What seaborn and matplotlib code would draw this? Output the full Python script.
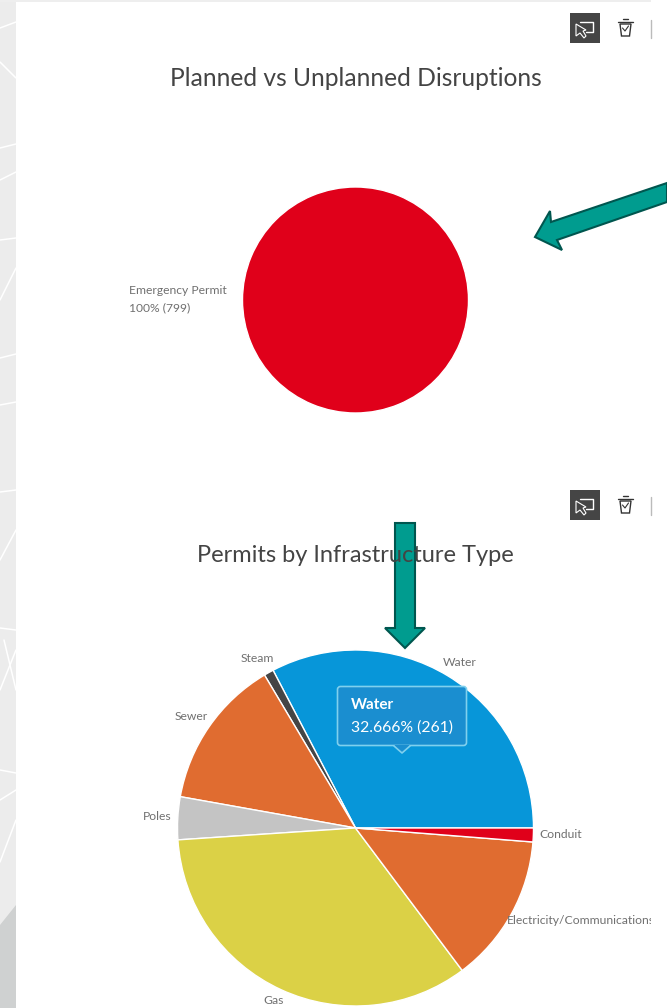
import matplotlib.pyplot as plt
import seaborn as sns
from matplotlib.patches import FancyBboxPatch, Polygon, Rectangle

sns.set_theme(style='white')
plt.rcParams['font.family'] = ['Lato', 'DejaVu Sans']

W, H = 667, 1008

# top chart
plan_labels = ['Emergency Permit']
plan_values = [799]
plan_colors = ['#e0001a']

# bottom chart, counter-clockwise from east
infra_labels = ['Water', 'Steam', 'Sewer', 'Poles', 'Gas', 'Electricity/Communications', 'Conduit']
infra_values = [261, 7, 109, 31, 273, 108, 10]
infra_colors = ['#0796d9', '#454545', '#e06c30', '#c4c4c4', '#dbd146', '#e06c30', '#e0001a']

titles = ['Planned vs Unplanned Disruptions', 'Permits by Infrastructure Type']
tooltip_head = 'Water'
tooltip_body = '32.666% (261)'


def pie_axes(cx, cy, r):
    ax = fig.add_axes([(cx - r) / W, 1 - (cy + r) / H, 2 * r / W, 2 * r / H])
    return ax


fig = plt.figure(figsize=(W / 100, H / 100), dpi=100, facecolor='white')

ax1 = pie_axes(355.5, 300, 113)
ax1.pie(plan_values, colors=plan_colors, startangle=90)
ax1.set_xlim(-1, 1)
ax1.set_ylim(-1, 1)

ax2 = pie_axes(355.5, 828, 178)
ax2.pie(infra_values, colors=infra_colors, startangle=0, counterclock=True,
        wedgeprops={'edgecolor': 'white', 'linewidth': 1})
ax2.set_xlim(-1, 1)
ax2.set_ylim(-1, 1)

# overlay in pixel coordinates for the page furniture
ov = fig.add_axes([0, 0, 1, 1], zorder=5)
ov.set_xlim(0, W)
ov.set_ylim(H, 0)
ov.axis('off')
ov.patch.set_alpha(0)

# map strip on the left
ov.add_patch(Rectangle((0, 0), 16, H, color='#ececec', lw=0))
ov.add_patch(Rectangle((0, 0), 651, 2, color='#eeeeee', lw=0))
ov.add_patch(Polygon([(0, 925), (8, 915), (16, 905), (16, 1008), (0, 1008)], color='#cfd1d1', lw=0))
map_lines = [[(0, 28), (16, 22)], [(0, 62), (16, 78)], [(0, 180), (16, 172)], [(0, 148), (16, 144)],
             [(0, 240), (16, 238)], [(0, 300), (16, 268)], [(0, 358), (16, 354)], [(0, 405), (16, 402)],
             [(0, 492), (16, 490)], [(0, 560), (16, 530)], [(0, 628), (16, 630)], [(0, 690), (16, 650)],
             [(0, 770), (16, 773)], [(0, 800), (16, 790)], [(0, 862), (16, 820)], [(4, 640), (16, 690)]]
for seg in map_lines:
    ov.plot(*zip(*seg), color='white', lw=1.1)

# titles
ov.text(355.5, 78, titles[0], ha='center', va='center', fontsize=17.7, color='#444444')
ov.text(355.5, 555, titles[1], ha='center', va='center', fontsize=17, color='#444444')

# slice labels
lab = {'fontsize': 8.7, 'color': '#707070', 'va': 'center'}
ov.text(129, 290, plan_labels[0], ha='left', **lab)
ov.text(129, 308, '100% (799)', ha='left', **lab)
ov.text(443, 662, infra_labels[0], ha='left', **lab)
ov.text(257, 659, infra_labels[1], ha='center', **lab)
ov.text(191, 717, infra_labels[2], ha='center', **lab)
ov.text(157, 816, infra_labels[3], ha='center', **lab)
ov.text(274, 1001, infra_labels[4], ha='center', **lab)
ov.text(539, 834, infra_labels[6], ha='left', **lab)
elec = ov.text(507, 921, infra_labels[5], ha='left', **lab)
elec.set_clip_path(Rectangle((0, 0), 651, H, transform=ov.transData))
elec.set_clip_on(True)

# tooltip
ov.add_patch(FancyBboxPatch((339, 688), 126, 56, boxstyle='round,pad=1.5,rounding_size=3',
                            fc='#1a8ed0', ec='#7fd0ee', lw=1.2))
ov.add_patch(Polygon([(394, 745), (402, 753), (410, 745)], fc='#1a8ed0', ec='none'))
ov.plot([394, 402, 410], [746, 753, 746], color='#7fd0ee', lw=1.2)
ov.text(351, 705, tooltip_head, color='white', fontsize=11, fontweight='bold', va='center')
ov.text(351, 728, tooltip_body, color='white', fontsize=11.3, va='center')

# teal arrows
teal = {'fc': '#009c8f', 'ec': '#00564f', 'lw': 1.5}
ov.add_patch(Polygon([(535, 237), (550, 211), (551, 222), (667, 183), (667, 202), (557, 240), (562, 250)],
                     closed=True, clip_on=True, **teal))
ov.add_patch(Polygon([(395, 523), (415, 523), (415, 628), (425, 628), (405, 648), (385, 628), (395, 628)],
                     closed=True, **teal))

# toolbar icons
for top in (13, 490):
    ov.add_patch(Rectangle((570, top), 30, 30, color='#454545', lw=0))
    ov.plot([580, 593, 593, 586], [top + 9, top + 9, top + 19, top + 19], color='white', lw=1)
    ov.add_patch(Polygon([(576, top + 11), (576, top + 23), (580, top + 20), (584, top + 25), (586, top + 23),
                          (583, top + 18), (586, top + 17)], fc='#454545', ec='white', lw=0.8))
    ov.add_patch(Polygon([(620, top + 11), (631, top + 11), (629.5, top + 23), (621.5, top + 23)],
                         fc='white', ec='#333333', lw=1))
    ov.plot([618, 633], [top + 9, top + 9], color='#333333', lw=1)
    ov.plot([623, 628], [top + 6, top + 6], color='#333333', lw=1)
    ov.plot([622.5, 625, 628.5], [top + 15, top + 18, top + 13], color='#333333', lw=0.8)
    ov.plot([651, 651], [top + 7, top + 25], color='#bbbbbb', lw=1)

fig.savefig('out.png', dpi=100)
